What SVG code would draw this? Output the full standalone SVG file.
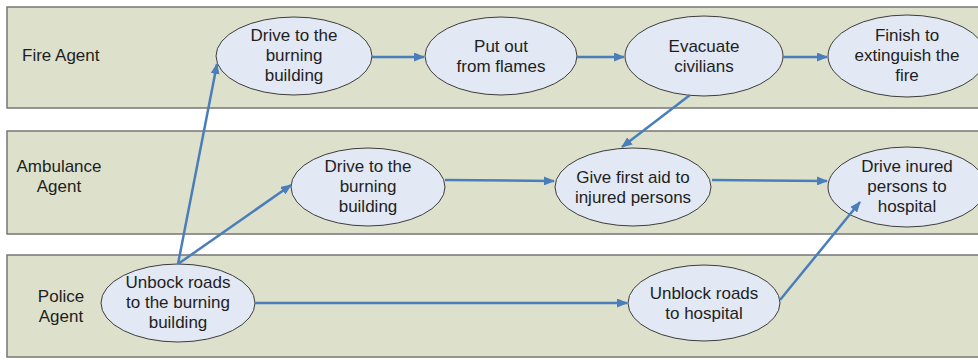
<svg xmlns="http://www.w3.org/2000/svg" width="978" height="360" viewBox="0 0 978 360">
  <style>
    .lane { fill: #dde1cc; stroke: #767676; stroke-width: 1.5; }
    .node { fill: #e2e8f4; stroke: #3c3c3c; stroke-width: 1; }
    .txt { font-family: "Liberation Sans", Arial, sans-serif; font-size: 17px; fill: #1e1e1e; text-anchor: middle; }
    .lbl { font-family: "Liberation Sans", Arial, sans-serif; font-size: 17px; fill: #1e1e1e; }
    .flow { fill: none; stroke: #4a7ebb; stroke-width: 2.5; marker-end: url(#head); }
  </style>
  <defs>
    <marker id="head" markerUnits="userSpaceOnUse" markerWidth="11" markerHeight="9" refX="10" refY="4.5" orient="auto">
      <path d="M0,0 L11,4.5 L0,9 z" fill="#4a7ebb"/>
    </marker>
  </defs>
  <rect width="978" height="360" fill="#ffffff"/>

  <!-- swim lanes -->
  <g id="lanes">
    <g id="lane-fire">
      <rect class="lane" x="7" y="7" width="985" height="101"/>
      <text class="lbl" x="22" y="61">Fire Agent</text>
    </g>
    <g id="lane-ambulance">
      <rect class="lane" x="7" y="131" width="985" height="103"/>
      <text class="txt" x="59" y="172">Ambulance</text>
      <text class="txt" x="59" y="192">Agent</text>
    </g>
    <g id="lane-police">
      <rect class="lane" x="7" y="255" width="985" height="102"/>
      <text class="txt" x="61" y="302">Police</text>
      <text class="txt" x="61" y="322">Agent</text>
    </g>
  </g>

  <!-- fire agent tasks -->
  <g id="fire-drive">
    <ellipse class="node" cx="294" cy="56" rx="78" ry="39"/>
    <text class="txt" x="294" y="41">Drive to the</text>
    <text class="txt" x="294" y="61">burning</text>
    <text class="txt" x="294" y="81">building</text>
  </g>
  <g id="fire-putout">
    <ellipse class="node" cx="501" cy="56" rx="76" ry="39"/>
    <text class="txt" x="501" y="52">Put out</text>
    <text class="txt" x="501" y="72">from flames</text>
  </g>
  <g id="fire-evacuate">
    <ellipse class="node" cx="704" cy="56" rx="79" ry="40"/>
    <text class="txt" x="704" y="52">Evacuate</text>
    <text class="txt" x="704" y="72">civilians</text>
  </g>
  <g id="fire-finish">
    <ellipse class="node" cx="907" cy="56" rx="79" ry="41"/>
    <text class="txt" x="907" y="41">Finish to</text>
    <text class="txt" x="907" y="61">extinguish the</text>
    <text class="txt" x="907" y="81">fire</text>
  </g>

  <!-- ambulance agent tasks -->
  <g id="amb-drive">
    <ellipse class="node" cx="368" cy="187" rx="77" ry="39"/>
    <text class="txt" x="368" y="172">Drive to the</text>
    <text class="txt" x="368" y="192">burning</text>
    <text class="txt" x="368" y="212">building</text>
  </g>
  <g id="amb-firstaid">
    <ellipse class="node" cx="633" cy="187" rx="78" ry="39"/>
    <text class="txt" x="633" y="183">Give first aid to</text>
    <text class="txt" x="633" y="203">injured persons</text>
  </g>
  <g id="amb-hospital">
    <ellipse class="node" cx="907" cy="187" rx="79" ry="40"/>
    <text class="txt" x="907" y="172">Drive inured</text>
    <text class="txt" x="907" y="192">persons to</text>
    <text class="txt" x="907" y="212">hospital</text>
  </g>

  <!-- police agent tasks -->
  <g id="police-unblock-building">
    <ellipse class="node" cx="178" cy="303" rx="77" ry="39"/>
    <text class="txt" x="178" y="288">Unbock roads</text>
    <text class="txt" x="178" y="308">to the burning</text>
    <text class="txt" x="178" y="328">building</text>
  </g>
  <g id="police-unblock-hospital">
    <ellipse class="node" cx="704" cy="303" rx="76" ry="38"/>
    <text class="txt" x="704" y="299">Unblock roads</text>
    <text class="txt" x="704" y="319">to hospital</text>
  </g>

  <!-- connectors, drawn over the task shapes so every arrowhead shows -->
  <g id="connectors">
    <line class="flow" x1="372" y1="57" x2="424" y2="57"/>
    <line class="flow" x1="577" y1="57" x2="624" y2="57"/>
    <line class="flow" x1="783" y1="57" x2="827" y2="57"/>
    <line class="flow" x1="690" y1="95" x2="622" y2="147"/>
    <line class="flow" x1="445" y1="180" x2="554" y2="181"/>
    <line class="flow" x1="712" y1="180" x2="827" y2="181"/>
    <line class="flow" x1="178" y1="264" x2="217" y2="64"/>
    <line class="flow" x1="178" y1="264" x2="291" y2="185"/>
    <line class="flow" x1="255" y1="303" x2="627" y2="303"/>
    <line class="flow" x1="780" y1="300" x2="860" y2="202"/>
  </g>
</svg>
